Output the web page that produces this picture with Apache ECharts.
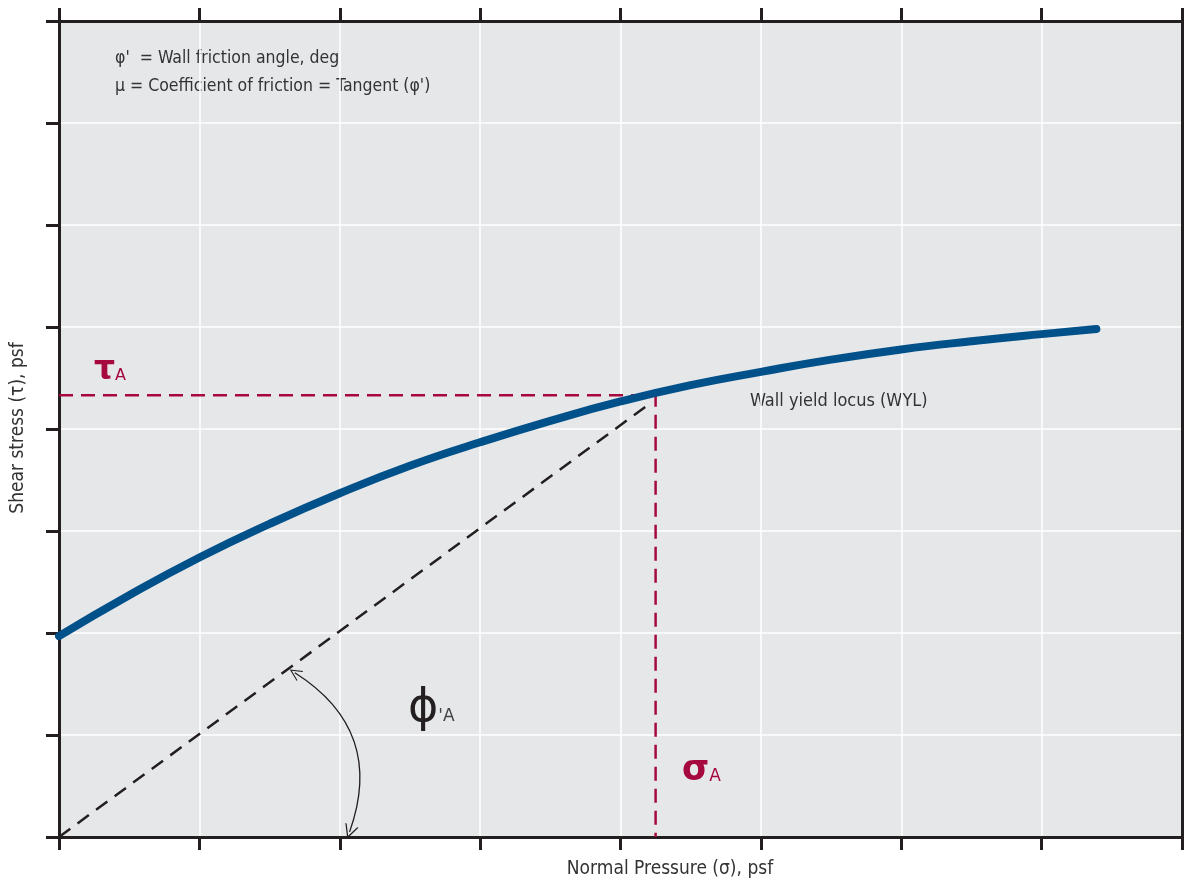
<!DOCTYPE html>
<html>
<head>
<meta charset="utf-8">
<script src="https://cdn.jsdelivr.net/npm/echarts@6/dist/echarts.min.js"></script>
<style>
	body{margin:0;background:#fff;}
	#main{width:1184px;height:880px;}
</style>
</head>
<body>
<div id="main"></div>
<script>
// wall yield locus (data units = grid steps)
var wylX = [0, 0.5, 1, 1.5, 2, 2.5, 3, 3.5, 4, 4.5, 5, 5.5, 6, 6.5, 7, 7.39];
var wylY = [1.97, 2.37, 2.74, 3.07, 3.37, 3.64, 3.87, 4.08, 4.27, 4.43, 4.56, 4.68, 4.78, 4.86, 4.93, 4.98];
// point A on the locus
var pointA = [4.25, 4.33];
// tangent line from origin (ends just under the locus)
var phiLine = [[0, 0], [4.21, 4.25]];
// arc arrow for the angle
var arcEnds = [[1.68, 1.61], [2.07, 0.05]];

var axisTicks = [0, 1, 2, 3, 4, 5, 6, 7, 8];

var dark = '#231f20';
var red = '#a5093d';
var fontName = '"Liberation Sans Narrow", "DejaVu Sans Condensed", sans-serif';

var chart = echarts.init(document.getElementById('main'));

wyl = [];
for(i=0;i<wylX.length;i++)
{
	wyl.push([wylX[i], wylY[i]]);
}

var axisBase = function(pos){
	return {
		type: 'value',
		position: pos,
		min: axisTicks[0],
		max: axisTicks[axisTicks.length-1],
		interval: 1,
		axisLine: {show: true, onZero: false, lineStyle: {color: dark, width: 3}},
		axisTick: {show: true, length: 13, lineStyle: {color: dark, width: 3}},
		axisLabel: {show: false},
		splitLine: {show: false}
	};
};

var xBottom = axisBase('bottom');
xBottom.splitLine = {show: true, lineStyle: {color: '#ffffff', width: 1.5}};
var yLeft = axisBase('left');
yLeft.splitLine = {show: true, lineStyle: {color: '#ffffff', width: 1.5}};

option = {
	animation: false,
	grid: {
		left: 59, right: 2, top: 21, bottom: 43,
		show: true, backgroundColor: '#e6e7e9', borderWidth: 0
	},
	xAxis: [xBottom, axisBase('top')],
	yAxis: [yLeft, axisBase('right')],
	series: [
		{
			type: 'line',
			data: [[0, pointA[1]], pointA, [pointA[0], 0]],
			symbol: 'none',
			lineStyle: {color: red, width: 2.5, type: [14, 8]},
			z: 3
		},
		{
			type: 'line',
			data: phiLine,
			symbol: 'none',
			lineStyle: {color: dark, width: 2.5, type: [14, 9]},
			z: 3
		},
		{
			type: 'line',
			data: wyl,
			smooth: true,
			symbol: 'none',
			lineStyle: {color: '#00508a', width: 8, cap: 'round'},
			z: 4
		},
		{
			type: 'lines',
			coordinateSystem: 'cartesian2d',
			symbol: ['path://M5,0 L10,10 L9,10 L5,2 L1,10 L0,10 Z', 'path://M5,0 L10,10 L9,10 L5,2 L1,10 L0,10 Z'],
			symbolSize: [12, 14],
			lineStyle: {color: dark, width: 1.3, curveness: 0.4, opacity: 1},
			data: [{coords: arcEnds}],
			z: 3
		}
	],
	graphic: [
		{type: 'text', left: 115, top: 49, style: {text: "φ'  = Wall friction angle, deg", font: '17.5px ' + fontName, fill: '#333'}},
		{type: 'text', left: 115, top: 77, style: {text: "μ = Coefficient of friction = Tangent (φ')", font: '17.5px ' + fontName, fill: '#333'}},
		{type: 'text', left: 750, top: 392, style: {text: 'Wall yield locus (WYL)', font: '18px ' + fontName, fill: '#333'}},
		{type: 'text', left: 94, top: 354, style: {
			text: '{b|τ}{s|A}', rich: {
				b: {fontSize: 33, fontFamily: 'DejaVu Sans', fontWeight: 'bold', fill: red, verticalAlign: 'bottom'},
				s: {fontSize: 16, fontFamily: 'DejaVu Sans', fill: red, verticalAlign: 'bottom', padding: [0, 0, 3, 0]}
			}}},
		{type: 'text', left: 682, top: 753, style: {
			text: '{b|σ}{s|A}', rich: {
				b: {fontSize: 35, fontFamily: 'DejaVu Sans', fontWeight: 'bold', fill: red, verticalAlign: 'bottom'},
				s: {fontSize: 17, fontFamily: 'DejaVu Sans', fill: red, verticalAlign: 'bottom', padding: [0, 0, 3, 0]}
			}}},
		{type: 'text', left: 408, top: 686, style: {
			text: "{b|ϕ}{s|'A}", rich: {
				b: {fontSize: 46, fontFamily: 'DejaVu Sans', fill: dark, verticalAlign: 'bottom'},
				s: {fontSize: 17, fontFamily: 'DejaVu Sans', fill: '#444', verticalAlign: 'bottom', padding: [0, 0, 7, 0]}
			}}},
		{type: 'text', x: 670, y: 869, style: {text: 'Normal Pressure (σ), psf', font: '19px ' + fontName, fill: '#333', align: 'center', verticalAlign: 'middle'}},
		{type: 'text', x: 18, y: 428, rotation: Math.PI/2, style: {text: 'Shear stress (τ), psf', font: '19px ' + fontName, fill: '#333', align: 'center', verticalAlign: 'middle'}}
	]
};

chart.setOption(option);
</script>
</body>
</html>
